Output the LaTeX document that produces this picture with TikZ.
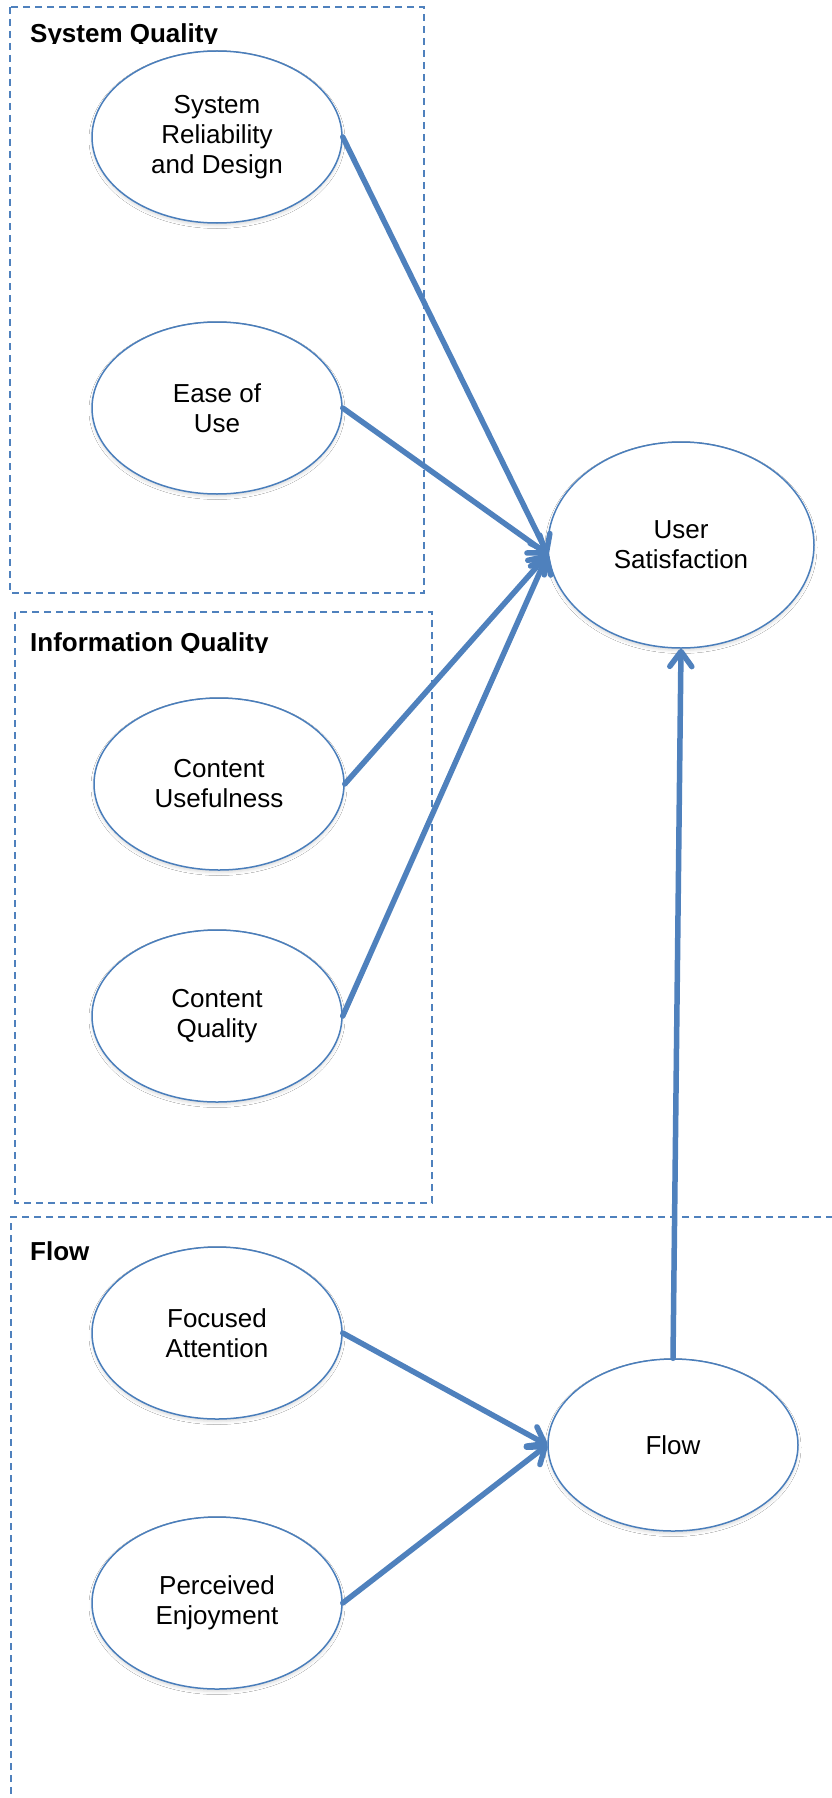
\documentclass[tikz,border=0pt]{standalone}
\usepackage{fontspec}
\setmainfont{Liberation Sans}
\usetikzlibrary{shapes.geometric,arrows.meta,shadows.blur}
\definecolor{nodeblue}{HTML}{4A7EBB}
\definecolor{arrowblue}{HTML}{4F81BD}
\begin{document}
\begin{tikzpicture}[x=1pt,y=-1pt,
  factor/.style={ellipse, draw=nodeblue, line width=1.5pt, fill=white,
    minimum width=250pt, minimum height=172pt, inner sep=0pt, align=center,
    font=\fontsize{26}{30}\selectfont,
    blur shadow={shadow xshift=0pt, shadow yshift=-2.5pt, shadow blur radius=3pt, shadow opacity=14}},
  group/.style={draw=arrowblue, line width=1.5pt, dash pattern=on 7pt off 5pt},
  grouptitle/.style={anchor=base west, inner sep=0pt, font=\bfseries\fontsize{26}{30}\selectfont},
  link/.style={draw=arrowblue, line width=5.5pt, line cap=round,
    -{Straight Barb[length=15pt, width=22pt, round]}}]
\useasboundingbox[fill=white] (0,0) rectangle (832,1798);
% group boxes
\draw[group] (10,7) rectangle (424,593);
\draw[group] (15,612) rectangle (432,1203);
\draw[group] (845,1217) -- (11,1217) -- (11,1810);
% titles
\begin{scope}
  \clip (20,0) rectangle (420,44);
  \node[grouptitle] (sqt) at (30,43) {System Quality};
\end{scope}
\begin{scope}
  \clip (20,615) rectangle (428,652);
  \node[grouptitle] (iqt) at (30,651) {Information Quality};
\end{scope}
\node[grouptitle] (flt) at (30,1260) {Flow};
% factors
\node[factor] (sr) at (217,137) {System\\Reliability\\and Design};
\node[factor] (eu) at (217,408) {Ease of\\Use};
\node[factor] (cu) at (219,784) {Content\\Usefulness};
\node[factor] (cq) at (217,1016) {Content\\Quality};
\node[factor] (fa) at (217,1333) {Focused\\Attention};
\node[factor] (pe) at (217,1603) {Perceived\\Enjoyment};
\node[factor, minimum width=266pt, minimum height=206pt] (us) at (681,545) {User\\Satisfaction};
\node[factor] (fl) at (673,1445) {Flow};
% links
\draw[link] (sr.east) -- (us.184);
\draw[link] (eu.east) -- (us.184);
\draw[link] (cu.east) -- (us.184);
\draw[link] (cq.east) -- (us.184);
\draw[link] (fa.east) -- (fl.west);
\draw[link] (pe.east) -- (fl.west);
\draw[link] (fl.north) -- (us.south);
\end{tikzpicture}
\end{document}
